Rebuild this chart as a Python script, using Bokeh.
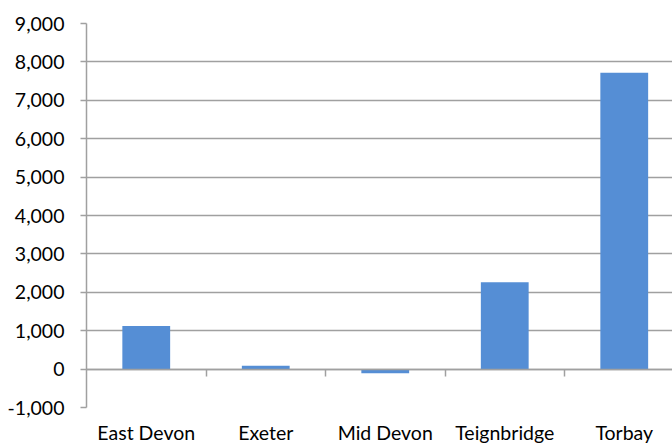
from bokeh.plotting import figure
from bokeh.models import Range1d, FixedTicker, LinearAxis, NumeralTickFormatter, ColumnDataSource
from bokeh.embed import file_html
from bokeh.resources import INLINE

categories = ["East Devon", "Exeter", "Mid Devon", "Teignbridge", "Torbay"]
values = [1120, 90, -110, 2260, 7720]
y_ticks = [-1000, 0, 1000, 2000, 3000, 4000, 5000, 6000, 7000, 8000, 9000]

n = len(categories)
centers = [i + 0.5 for i in range(n)]
boundaries = [i for i in range(1, n)]

FONT = "Lato"
GRID = "#a0a0a0"
FS = "19.5px"

W, H = 672, 446
left_border = 86
frame_w = W - left_border
cat_px = 119.5

p = figure(width=W, height=H, output_backend="svg", toolbar_location=None,
           x_range=Range1d(0, frame_w / cat_px), y_range=Range1d(-1000, 9000),
           min_border_left=left_border, min_border_right=0, min_border_top=23,
           min_border_bottom=0, x_axis_type=None)
p.outline_line_color = None
p.background_fill_color = "white"

src = ColumnDataSource(dict(x=centers, top=values, cat=categories))
p.vbar(x="x", top="top", bottom=0, width=0.4, source=src,
       fill_color="#558ed5", line_color=None)

# y axis
ya = p.yaxis[0]
ya.ticker = FixedTicker(ticks=y_ticks)
ya.formatter = NumeralTickFormatter(format="0,0")
ya.axis_line_color = GRID
ya.axis_line_width = 1.5
ya.major_tick_line_color = GRID
ya.major_tick_line_width = 1.5
ya.major_tick_out = 6
ya.major_tick_in = 0
ya.minor_tick_line_color = None
ya.major_label_text_font = FONT
ya.major_label_text_font_size = FS
ya.major_label_text_color = "#000000"
ya.major_label_standoff = 16

p.ygrid.ticker = FixedTicker(ticks=y_ticks)
p.ygrid.grid_line_color = GRID
p.ygrid.grid_line_width = 1.5

# category labels at bottom
xa = LinearAxis(ticker=FixedTicker(ticks=centers),
                major_label_overrides={c: lab for c, lab in zip(centers, categories)})
xa.axis_line_color = None
xa.major_tick_line_color = None
xa.major_tick_out = 0
xa.major_tick_in = 0
xa.minor_tick_line_color = None
xa.major_label_text_font = FONT
xa.major_label_text_font_size = FS
xa.major_label_text_color = "#000000"
xa.major_label_standoff = 13
p.add_layout(xa, "below")

# category boundary ticks on the zero line
za = LinearAxis(ticker=FixedTicker(ticks=boundaries), fixed_location=0)
za.axis_line_color = GRID
za.axis_line_width = 1.5
za.major_tick_line_color = GRID
za.major_tick_line_width = 1.5
za.major_tick_in = 7
za.major_tick_out = 0
za.minor_tick_line_color = None
za.major_label_text_font_size = "0px"
za.major_label_text_color = None
za.major_label_standoff = 0
p.add_layout(za, "above")

open("out.html", "w").write(file_html(p, INLINE))
